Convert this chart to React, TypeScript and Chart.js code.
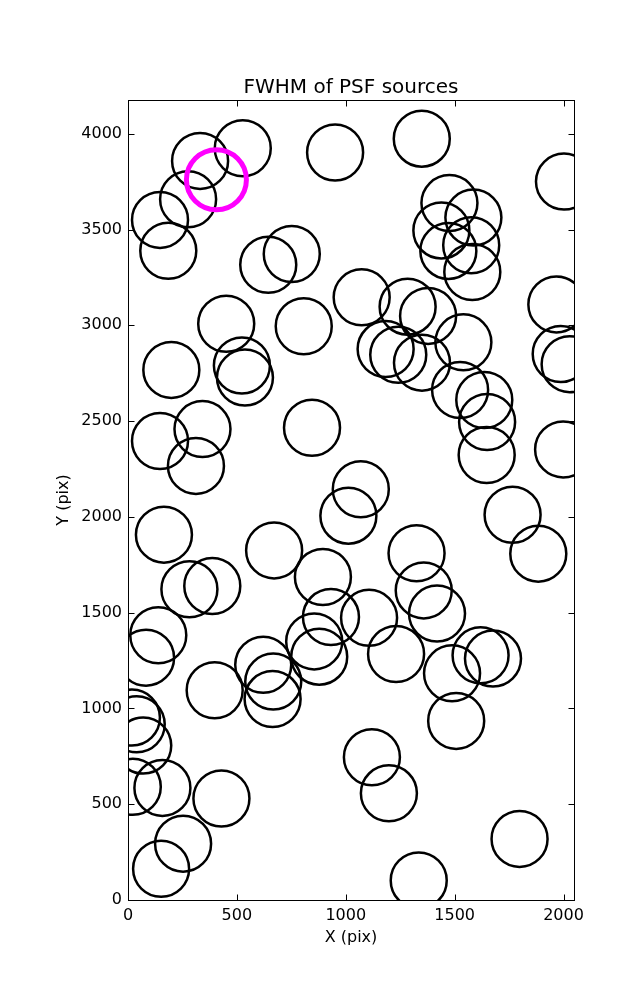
import { useEffect, useRef } from "react";
import { Chart, registerables } from "chart.js";

Chart.register(...registerables);

// Source centres (pix)
const sourceX = [
  331, 527, 276, 147, 185, 951, 1349, 644, 752, 1073,
  451, 807, 199, 523, 537, 1183, 1241, 1350, 1540, 1476,
  1586, 1439, 1471, 1576, 1581, 1284, 1378, 1967, 2002, 1987,
  2028, 1525, 1636, 1649, 1647, 1998, 845, 147, 342, 312,
  165, 282, 387, 671, 1069, 1012, 895, 932, 1107, 855,
  878, 139, 83, 621, 667, 664, 398, 1766, 1884, 1325,
  1358, 1419, 1231, 1488, 1619, 1676, 18, 40, 70, 22,
  158, 429, 253, 152, 1120, 1198, 1507, 1798, 1335,
];
const sourceY = [
  3858, 3924, 3658, 3550, 3389, 3902, 3974, 3316, 3372, 3146,
  3008, 2995, 2767, 2790, 2727, 2876, 2846, 2805, 2911, 3638,
  3562, 3495, 3388, 3418, 3278, 3097, 3049, 3109, 3750, 2850,
  2797, 2662, 2610, 2495, 2323, 2352, 2465, 2396, 2458, 2266,
  1907, 1622, 1639, 1825, 2144, 2006, 1686, 1477, 1473, 1350,
  1270, 1382, 1265, 1228, 1140, 1049, 1095, 2011, 1808, 1810,
  1616, 1495, 1284, 1183, 1277, 1260, 952, 917, 806, 591,
  585, 530, 294, 163, 745, 557, 935, 319, 102,
];
// Highlighted source
const highlightX = [406];
const highlightY = [3760];

const xTicks = [0, 500, 1000, 1500, 2000];
const yTicks = [0, 500, 1000, 1500, 2000, 2500, 3000, 3500, 4000];
const xMax = 2048;
const yMax = 4176;

const FONT = "'DejaVu Sans', sans-serif";

const frameTicks = {
  id: "frameTicks",
  afterDatasetsDraw(chart: any) {
    const { ctx, chartArea, scales } = chart;
    const { left, right, top, bottom } = chartArea;
    const L = Math.round(left) + 0.5;
    const R = Math.round(right) + 0.5;
    const T = Math.round(top) + 0.5;
    const B = Math.round(bottom) + 0.5;
    const len = 6;
    ctx.save();
    ctx.strokeStyle = "#000";
    ctx.lineWidth = 1;
    ctx.beginPath();
    xTicks.forEach((v) => {
      const px = Math.round(scales.x.getPixelForValue(v)) + 0.5;
      ctx.moveTo(px, B);
      ctx.lineTo(px, B - len);
      ctx.moveTo(px, T);
      ctx.lineTo(px, T + len);
    });
    yTicks.forEach((v) => {
      const py = Math.round(scales.y.getPixelForValue(v)) + 0.5;
      ctx.moveTo(L, py);
      ctx.lineTo(L + len, py);
      ctx.moveTo(R, py);
      ctx.lineTo(R - len, py);
    });
    ctx.stroke();
    ctx.strokeRect(L, T, R - L, B - T);
    ctx.restore();
  },
};

export default function App() {
  const ref = useRef<HTMLCanvasElement | null>(null);

  useEffect(() => {
    if (!ref.current) return;
    const chart = new Chart(ref.current, {
      type: "scatter",
      data: {
        datasets: [
          {
            label: "highlight",
            data: highlightX.map((x, i) => ({ x, y: highlightY[i] })),
            pointRadius: 30,
            pointHoverRadius: 30,
            pointBorderWidth: 5,
            pointHoverBorderWidth: 5,
            pointBorderColor: "#ff00ff",
            pointBackgroundColor: "rgba(0,0,0,0)",
            clip: 0,
            order: 0,
          },
          {
            label: "sources",
            data: sourceX.map((x, i) => ({ x, y: sourceY[i] })),
            pointRadius: 28,
            pointHoverRadius: 28,
            pointBorderWidth: 2.5,
            pointHoverBorderWidth: 2.5,
            pointBorderColor: "#000",
            pointBackgroundColor: "rgba(0,0,0,0)",
            clip: 0,
            order: 1,
          },
        ],
      },
      options: {
        animation: false,
        responsive: false,
        devicePixelRatio: 1,
        events: [],
        layout: { padding: { left: 0, right: 63, top: 0, bottom: 0 } },
        plugins: {
          legend: { display: false },
          tooltip: { enabled: false },
          title: {
            display: true,
            text: "FWHM of PSF sources",
            fullSize: false,
            color: "#000",
            font: { family: FONT, size: 20, weight: "normal", lineHeight: 1.2 },
            padding: { top: 76, bottom: 0 },
          },
        },
        scales: {
          x: {
            type: "linear",
            min: 0,
            max: xMax,
            grid: { display: false, drawTicks: false },
            border: { display: false },
            afterBuildTicks: (s: any) => {
              s.ticks = xTicks.map((v) => ({ value: v }));
            },
            afterFit: (s: any) => {
              s.height = 100;
            },
            ticks: {
              includeBounds: false,
              padding: 6.4,
              color: "#000",
              maxRotation: 0,
              font: { family: FONT, size: 16 },
              callback: (v: any) => String(v),
            },
            title: {
              display: true,
              text: "X (pix)",
              color: "#000",
              font: { family: FONT, size: 16, lineHeight: 1.2 },
              padding: { top: 0, bottom: 52.4 },
            },
          },
          y: {
            type: "linear",
            min: 0,
            max: yMax,
            grid: { display: false, drawTicks: false },
            border: { display: false },
            afterBuildTicks: (s: any) => {
              s.ticks = yTicks.map((v) => ({ value: v }));
            },
            afterFit: (s: any) => {
              s.width = 128;
            },
            ticks: {
              includeBounds: false,
              padding: 6,
              color: "#000",
              font: { family: FONT, size: 16 },
              callback: (v: any) => String(v),
            },
            title: {
              display: true,
              text: "Y (pix)",
              color: "#000",
              font: { family: FONT, size: 16, lineHeight: 1.2 },
              padding: { top: 54, bottom: 0 },
            },
          },
        },
      },
      plugins: [frameTicks],
    });
    return () => chart.destroy();
  }, []);

  return (
    <div style={{ position: "absolute", left: 0, top: 0, width: 637, height: 1000, background: "#fff" }}>
      <canvas ref={ref} width={637} height={1000} style={{ width: 637, height: 1000, display: "block" }} />
    </div>
  );
}
